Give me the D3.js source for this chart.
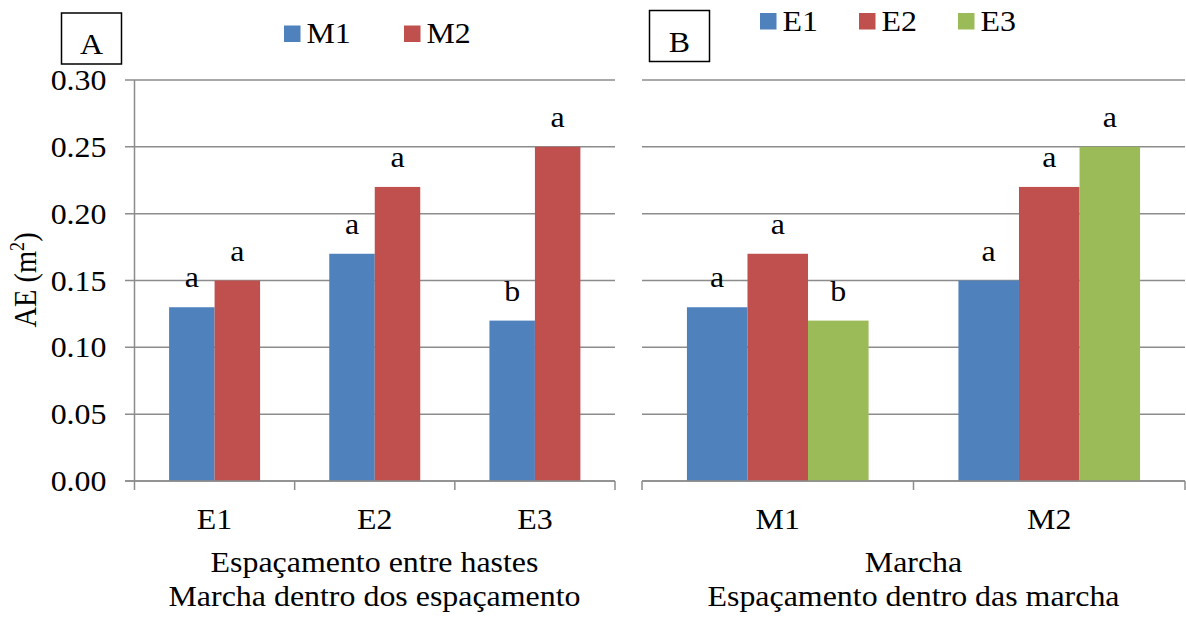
<!DOCTYPE html>
<html>
<head>
<meta charset="utf-8">
<script src="https://cdn.jsdelivr.net/npm/d3@7"></script>
<style>
  html, body { margin: 0; padding: 0; background: #fff; }
  svg { display: block; }
</style>
</head>
<body>
<svg id="chart" width="1186" height="619" font-family="'Liberation Serif', 'Times New Roman', Times, serif"></svg>
<script>
// Panel A: marcha within each espaçamento
const spacings = ["E1", "E2", "E3"];
const marchas = ["M1", "M2"];
const valuesM1 = [0.13, 0.17, 0.12];
const valuesM2 = [0.15, 0.22, 0.25];
const lettersM1 = ["a", "a", "b"];
const lettersM2 = ["a", "a", "a"];

// Panel B: espaçamento within each marcha
const valuesE1 = [0.13, 0.15];
const valuesE2 = [0.17, 0.22];
const valuesE3 = [0.12, 0.25];
const lettersE1 = ["a", "a"];
const lettersE2 = ["a", "a"];
const lettersE3 = ["b", "a"];

const yTicks = [0, 0.05, 0.10, 0.15, 0.20, 0.25, 0.30];
const colors = { M1: "#4F81BD", M2: "#C0504D", E1: "#4F81BD", E2: "#C0504D", E3: "#9BBB59" };

const svg = d3.select("#chart");
const gridColor = "#8c8c8c";
const fontSize = 28.5;
const stretch = 1.12; // text is set slightly wide

// text helper: places a string at (x, y) with the wide setting
function label(parent, x, y, str, anchor = "middle") {
  return parent.append("text")
    .attr("transform", `translate(${x},${y}) scale(${stretch},1)`)
    .attr("text-anchor", anchor).attr("font-size", fontSize)
    .attr("fill", "#000")
    .text(str);
}

const y = d3.scaleLinear().domain([0, 0.30]).range([481, 80]);

function drawPanel(opts) {
  const { cats, series, values, letters, x0, x1, withYAxis, padding } = opts;
  const g = svg.append("g");
  const x = d3.scaleBand().domain(cats).range([x0, x1])
    .paddingInner(padding).paddingOuter(padding / 2);
  const xs = d3.scaleBand().domain(series).range([0, x.bandwidth()]);
  const gridLeft = withYAxis ? x0 - 9.5 : x0;

  // horizontal gridlines
  g.selectAll("line.grid").data(yTicks).join("line")
    .attr("x1", gridLeft).attr("x2", x1)
    .attr("y1", d => y(d)).attr("y2", d => y(d))
    .attr("stroke", gridColor).attr("stroke-width", 1.5);

  if (withYAxis) {
    g.append("line")
      .attr("x1", x0).attr("x2", x0).attr("y1", y(0.30)).attr("y2", y(0))
      .attr("stroke", gridColor).attr("stroke-width", 1.5);
    yTicks.forEach(d => label(g, 106.5, y(d) + 10, d3.format(".2f")(d), "end"));
  }

  // category boundary ticks on the bottom axis
  const step = x.step();
  const bounds = d3.range(cats.length + 1).map(i => x0 + i * step);
  g.selectAll("line.xtick").data(bounds).join("line")
    .attr("x1", d => d).attr("x2", d => d)
    .attr("y1", y(0)).attr("y2", y(0) + 9)
    .attr("stroke", gridColor).attr("stroke-width", 1.5);

  // bars with their significance letters
  cats.forEach((c, ci) => {
    series.forEach((s, si) => {
      const v = values[si][ci];
      const bx = x(c) + xs(s);
      g.append("rect")
        .attr("x", bx).attr("y", y(v))
        .attr("width", xs.bandwidth()).attr("height", y(0) - y(v))
        .attr("fill", colors[s]);
      label(g, bx + xs.bandwidth() / 2, y(v) - 20, letters[si][ci]);
    });
  });

  // baseline drawn over the bars
  g.append("line")
    .attr("x1", gridLeft).attr("x2", x1).attr("y1", y(0)).attr("y2", y(0))
    .attr("stroke", gridColor).attr("stroke-width", 1.5);

  // category labels
  cats.forEach(c => label(g, x(c) + x.bandwidth() / 2, 529, c));

  return x;
}

drawPanel({
  cats: spacings, series: marchas,
  values: [valuesM1, valuesM2], letters: [lettersM1, lettersM2],
  x0: 134.5, x1: 615, withYAxis: true, padding: 0.432
});

drawPanel({
  cats: marchas, series: ["E1", "E2", "E3"],
  values: [valuesE1, valuesE2, valuesE3], letters: [lettersE1, lettersE2, lettersE3],
  x0: 642, x1: 1185, withYAxis: false, padding: 0.331
});

// y axis title
svg.append("text")
  .attr("transform", `translate(36,280) scale(${stretch},1) rotate(-90)`)
  .attr("text-anchor", "middle").attr("font-size", fontSize)
  .call(t => {
    t.append("tspan").text("AE (m");
    t.append("tspan").attr("font-size", 18).attr("dy", -11).text("2");
    t.append("tspan").attr("dy", 11).text(")");
  });

// x axis titles
const titleA = ["Espaçamento entre hastes", "Marcha dentro dos espaçamento"];
const titleB = ["Marcha", "Espaçamento dentro das marcha"];
const titleY = [572, 606];
titleA.forEach((t, i) => label(svg, 374.5, titleY[i], t));
titleB.forEach((t, i) => label(svg, 913.5, titleY[i], t));

// panel letters in boxes
function panelBox(txt, bx, by, w, h, baseline) {
  svg.append("rect").attr("x", bx).attr("y", by).attr("width", w).attr("height", h)
    .attr("fill", "none").attr("stroke", "#000").attr("stroke-width", 1.5);
  label(svg, bx + w / 2, baseline, txt);
}
panelBox("A", 61.5, 13, 60, 51, 53.5);
panelBox("B", 649.5, 10.5, 60, 51, 51.5);

// legends
function legend(keys, xs, sqY, textY) {
  keys.forEach((k, i) => {
    svg.append("rect").attr("x", xs[i]).attr("y", sqY).attr("width", 16.5).attr("height", 16.5)
      .attr("fill", colors[k]);
    label(svg, xs[i] + 22.5, textY, k, "start");
  });
}
legend(marchas, [284, 404], 25.5, 43);
legend(["E1", "E2", "E3"], [760, 859, 958], 13, 30.5);
</script>
</body>
</html>
